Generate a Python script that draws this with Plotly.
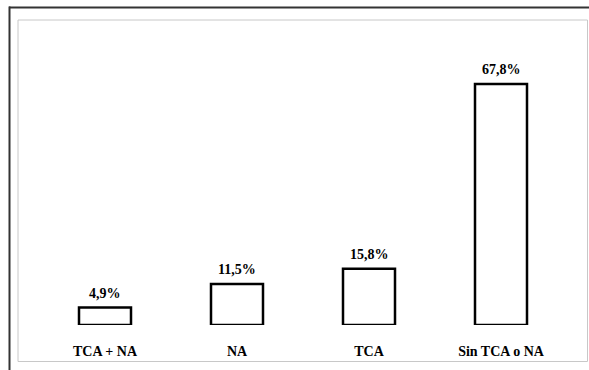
import plotly.graph_objects as go

categories = ["TCA + NA", "NA", "TCA", "Sin TCA o NA"]
values = [4.9, 11.5, 15.8, 67.8]
value_labels = ["4,9%", "11,5%", "15,8%", "67,8%"]

W, H = 589, 370
L, R, T, B = 39, 567, 30, 325  # plot area in px
YMAX = (B - T) / 3.555

def px_x(x):
    return (x - L) / (R - L)

def px_y(y):
    return (B - y) / (B - T)

font_family = "Times New Roman, Liberation Serif, serif"

fig = go.Figure()
fig.add_trace(go.Bar(
    x=categories,
    y=values,
    marker=dict(color="white", line=dict(color="black", width=2.5)),
    cliponaxis=False,
    width=0.394,
    hoverinfo="skip",
))

annotations = [
    dict(x=c, y=v, xref="x", yref="y", text="<b>%s</b>" % t,
         showarrow=False, yanchor="bottom", yshift=5,
         font=dict(family=font_family, size=14, color="black"))
    for c, v, t in zip(categories, values, value_labels)
]

shapes = [
    dict(type="rect", xref="paper", yref="paper",
         x0=px_x(18), x1=px_x(587.5), y0=px_y(361.5), y1=px_y(20),
         line=dict(color="#c8c8c8", width=1), layer="below"),
    dict(type="line", xref="paper", yref="paper",
         x0=px_x(9), x1=px_x(590), y0=px_y(7.5), y1=px_y(7.5),
         line=dict(color="#333333", width=2)),
    dict(type="line", xref="paper", yref="paper",
         x0=px_x(9.5), x1=px_x(9.5), y0=px_y(371), y1=px_y(6.5),
         line=dict(color="#333333", width=2)),
]

fig.update_layout(
    width=W, height=H,
    margin=dict(l=L, r=W - R, t=T, b=H - B, pad=0),
    paper_bgcolor="white", plot_bgcolor="white",
    showlegend=False,
    shapes=shapes,
    annotations=annotations,
    font=dict(family=font_family, color="black"),
)
fig.update_xaxes(
    tickvals=categories,
    ticktext=["<b>%s</b>" % c for c in categories],
    tickfont=dict(family=font_family, size=14, color="black"),
    showline=False, showgrid=False, zeroline=False, ticks="",
    ticklabelstandoff=16,
)
fig.update_yaxes(range=[0, YMAX], visible=False)

fig.write_html("out.html")
